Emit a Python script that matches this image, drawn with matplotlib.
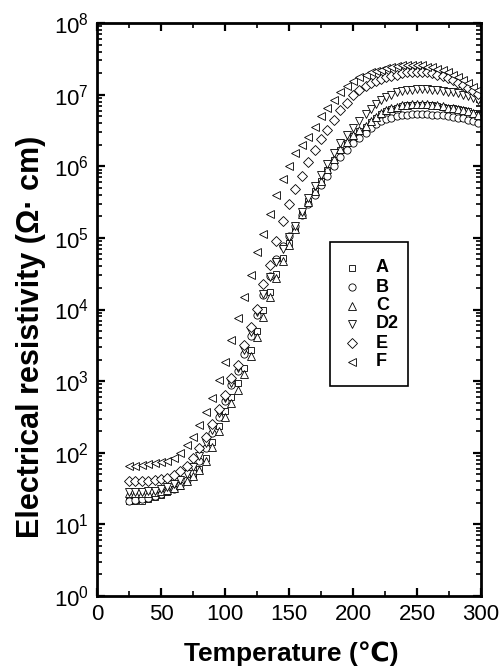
import numpy as np
import matplotlib
matplotlib.use("Agg")
import matplotlib.pyplot as plt
from matplotlib.ticker import MultipleLocator, FixedLocator, NullFormatter
from matplotlib.patches import Rectangle

plt.rcParams['font.family'] = ['Liberation Sans', 'DejaVu Sans']
plt.rcParams['mathtext.fontset'] = 'custom'
plt.rcParams['mathtext.rm'] = 'Liberation Sans'
plt.rcParams['mathtext.default'] = 'regular'

temperature = [25, 30, 35, 40, 45, 50, 55, 60, 65, 70, 75, 80, 85, 90, 95, 100,
               105, 110, 115, 120, 125, 130, 135, 140, 145, 150, 155, 160, 165,
               170, 175, 180, 185, 190, 195, 200, 205, 210, 214, 218, 222, 226,
               230, 234, 238, 242, 246, 250, 254, 258, 262, 266, 270, 274, 278,
               282, 286, 290, 294, 298]

# log10 of resistivity (Ohm cm)
log_A = [1.32, 1.32, 1.33, 1.35, 1.38, 1.41, 1.45, 1.49, 1.54, 1.60, 1.67, 1.78,
         1.93, 2.15, 2.38, 2.58, 2.78, 2.97, 3.18, 3.44, 3.70, 3.99, 4.25, 4.50,
         4.72, 4.93, 5.14, 5.35, 5.51, 5.65, 5.80, 5.95, 6.09, 6.23, 6.33, 6.42,
         6.49, 6.55, 6.62, 6.68, 6.73, 6.77, 6.80, 6.82, 6.84, 6.85, 6.86, 6.86,
         6.86, 6.86, 6.85, 6.84, 6.83, 6.82, 6.81, 6.80, 6.79, 6.77, 6.75, 6.72]
log_B = [1.33, 1.34, 1.35, 1.37, 1.39, 1.42, 1.46, 1.50, 1.55, 1.62, 1.72, 1.88,
         2.06, 2.27, 2.50, 2.72, 2.94, 3.14, 3.38, 3.63, 3.92, 4.20, 4.47, 4.70,
         4.88, 5.02, 5.17, 5.32, 5.47, 5.60, 5.74, 5.87, 6.00, 6.13, 6.23, 6.32,
         6.40, 6.47, 6.53, 6.59, 6.63, 6.66, 6.68, 6.70, 6.71, 6.72, 6.73, 6.73,
         6.73, 6.73, 6.72, 6.72, 6.71, 6.70, 6.69, 6.68, 6.67, 6.65, 6.63, 6.60]
log_C = [1.44, 1.44, 1.44, 1.44, 1.45, 1.46, 1.48, 1.51, 1.55, 1.60, 1.67, 1.76,
         1.89, 2.08, 2.30, 2.50, 2.70, 2.88, 3.10, 3.35, 3.62, 3.90, 4.18, 4.44,
         4.68, 4.90, 5.12, 5.33, 5.50, 5.65, 5.80, 5.96, 6.10, 6.24, 6.34, 6.43,
         6.50, 6.56, 6.63, 6.69, 6.74, 6.78, 6.81, 6.83, 6.85, 6.86, 6.87, 6.87,
         6.87, 6.87, 6.86, 6.85, 6.84, 6.82, 6.81, 6.80, 6.79, 6.77, 6.75, 6.72]
log_D2 = [1.45, 1.45, 1.45, 1.46, 1.47, 1.49, 1.52, 1.56, 1.62, 1.70, 1.80, 1.95,
          2.13, 2.32, 2.55, 2.76, 2.98, 3.18, 3.43, 3.68, 3.96, 4.22, 4.45, 4.66,
          4.85, 5.01, 5.17, 5.36, 5.55, 5.72, 5.88, 6.03, 6.18, 6.32, 6.44, 6.54,
          6.63, 6.73, 6.80, 6.87, 6.92, 6.96, 7.00, 7.03, 7.05, 7.06, 7.07, 7.08,
          7.08, 7.08, 7.07, 7.06, 7.05, 7.04, 7.03, 7.02, 7.00, 6.98, 6.95, 6.93]
log_E = [1.60, 1.60, 1.61, 1.61, 1.62, 1.63, 1.65, 1.69, 1.75, 1.81, 1.92, 2.06,
         2.22, 2.40, 2.61, 2.80, 3.04, 3.23, 3.50, 3.75, 4.01, 4.35, 4.62, 4.95,
         5.24, 5.47, 5.68, 5.86, 6.06, 6.23, 6.38, 6.51, 6.65, 6.78, 6.89, 6.99,
         7.06, 7.12, 7.16, 7.19, 7.22, 7.24, 7.26, 7.28, 7.30, 7.31, 7.32, 7.32,
         7.32, 7.31, 7.30, 7.28, 7.26, 7.23, 7.20, 7.16, 7.13, 7.09, 7.05, 7.01]
log_F = [1.81, 1.82, 1.83, 1.84, 1.85, 1.87, 1.89, 1.93, 2.00, 2.11, 2.22, 2.39,
         2.57, 2.76, 3.02, 3.27, 3.58, 3.88, 4.18, 4.48, 4.80, 5.05, 5.33, 5.60,
         5.82, 6.01, 6.18, 6.30, 6.41, 6.55, 6.70, 6.82, 6.93, 7.04, 7.12, 7.19,
         7.24, 7.28, 7.31, 7.33, 7.35, 7.37, 7.39, 7.40, 7.41, 7.41, 7.42, 7.41,
         7.41, 7.39, 7.38, 7.36, 7.34, 7.31, 7.28, 7.25, 7.21, 7.16, 7.11, 7.06]

labels = ['A', 'B', 'C', 'D2', 'E', 'F']
series = [log_A, log_B, log_C, log_D2, log_E, log_F]
markers = ['s', 'o', '^', 'v', 'D', '<']
msizes = [4.8, 5.2, 5.4, 5.4, 4.6, 5.4]
decades = list(range(0, 9))

fig = plt.figure(figsize=(5.01, 6.71), dpi=100)
ax = fig.add_axes([97/501, 1-596/671, 384/501, 573/671])

for lab, vals, m, ms in zip(labels, series, markers, msizes):
    ax.plot(temperature, 10**np.array(vals), linestyle='none', marker=m,
            markersize=ms, markerfacecolor='white', markeredgecolor='black',
            markeredgewidth=0.6, label=lab, clip_on=True)

ax.set_yscale('log')
ax.set_xlim(0, 300)
ax.set_ylim(1, 1e8)
ax.xaxis.set_major_locator(MultipleLocator(50))
ax.xaxis.set_minor_locator(MultipleLocator(25))
ax.yaxis.set_major_locator(FixedLocator([10.0**k for k in decades]))
minor_y = [s * 10.0**k for k in decades[:-1] for s in range(2, 10)]
ax.yaxis.set_minor_locator(FixedLocator(minor_y))
ax.yaxis.set_minor_formatter(NullFormatter())

for s in ax.spines.values():
    s.set_linewidth(2.0)
ax.tick_params(which='both', direction='in', top=True, right=True,
               labelsize=16, pad=6)
ax.tick_params(which='major', length=6, width=1.6)
ax.tick_params(which='minor', length=3.5, width=1.2)

ax.set_xlabel('Temperature (\u2103)', fontsize=19, fontweight='bold')
ax.xaxis.set_label_coords(0.505, (596-641)/573)
ax.set_ylabel('Electrical resistivity (\u03a9\u00b7 cm)', fontsize=22,
              fontweight='bold')
ax.yaxis.set_label_coords((46-97)/384, (596-337)/573)

# legend box (drawn manually to match the layout)
x0, x1 = (330-97)/384, (408-97)/384
y0, y1 = (596-386)/573, (596-242)/573
ax.add_patch(Rectangle((x0, y0), x1-x0, y1-y0, transform=ax.transAxes,
                       facecolor='white', edgecolor='black', linewidth=1.2, zorder=5))
row_y = [268, 287, 306, 324, 343, 362]
for lab, m, ms, yy in zip(labels, markers, msizes, row_y):
    ya = (596-yy)/573
    ax.plot([(352-97)/384], [ya], transform=ax.transAxes, marker=m, markersize=ms,
            markerfacecolor='white', markeredgecolor='black', markeredgewidth=0.6,
            linestyle='none', zorder=6, clip_on=False)
    ax.text((376-97)/384, ya, lab, transform=ax.transAxes, fontsize=13,
            fontweight='bold', va='center', ha='left', zorder=6)

fig.savefig('out.png', dpi=100)
